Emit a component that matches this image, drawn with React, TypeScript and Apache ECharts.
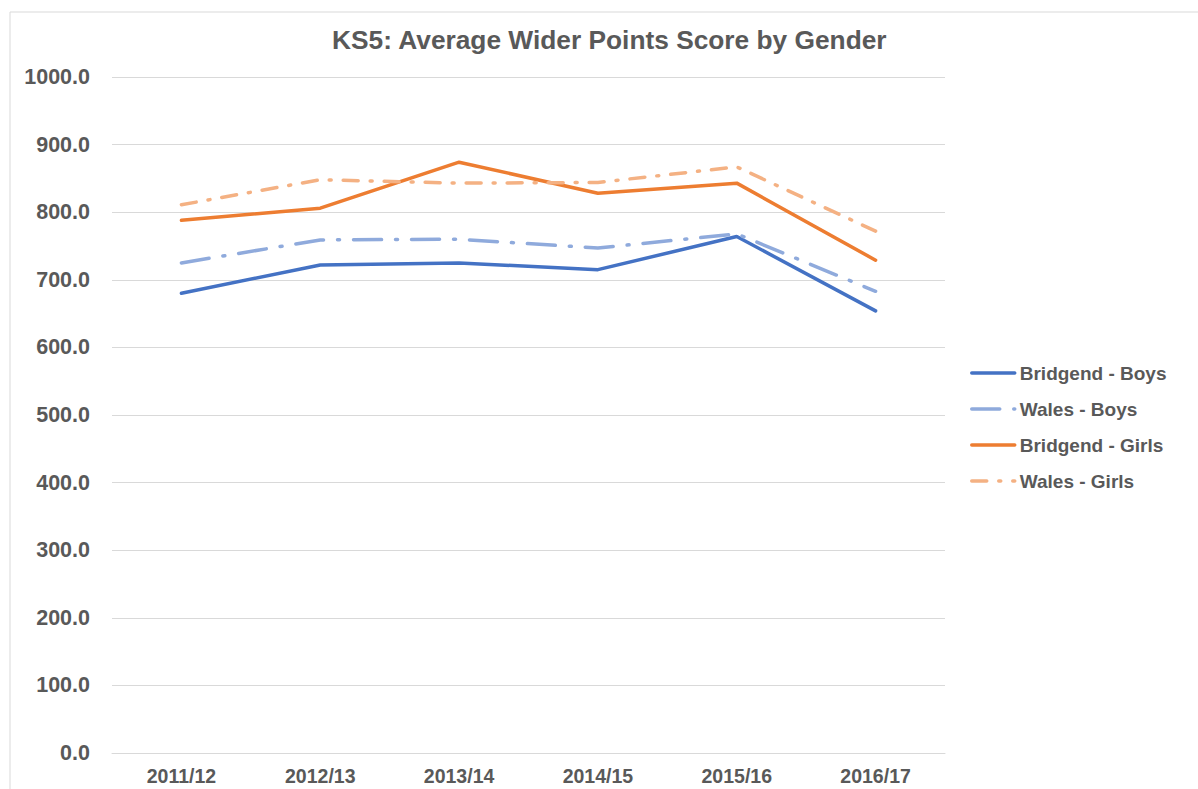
import React, { useEffect, useRef } from "react";
import * as echarts from "echarts";

const categories = ["2011/12", "2012/13", "2013/14", "2014/15", "2015/16", "2016/17"];
const bridgendBoys = [680, 722, 725, 715, 764, 654];
const walesBoys = [725, 759, 760, 747, 768, 683];
const bridgendGirls = [788, 806, 874, 828, 843, 729];
const walesGirls = [811, 848, 843, 844, 867, 772];

const FONT = "'Liberation Sans', Arial, sans-serif";
const GREY = "#595959";

export default function App() {
  const ref = useRef<HTMLDivElement>(null);
  useEffect(() => {
    if (!ref.current) return;
    const chart = echarts.init(ref.current, null, { renderer: "svg" });
    const mk = (name: string, data: number[], color: string, type: any) => ({
      name,
      type: "line",
      data,
      symbol: "none",
      lineStyle: { color, width: 3.5, type, cap: "round" },
      itemStyle: { color },
    });
    chart.setOption({
      animation: false,
      backgroundColor: "#ffffff",
      textStyle: { fontFamily: FONT },
      title: {
        text: "KS5: Average Wider Points Score by Gender",
        left: 332,
        top: 27,
        padding: 0,
        textStyle: { fontFamily: FONT, fontSize: 26.3, fontWeight: "bold", color: GREY },
      },
      graphic: [
        {
          type: "rect",
          shape: { x: 10, y: 12, width: 1400, height: 1000 },
          style: { fill: "none", stroke: "#d9d9d9", lineWidth: 1 },
          silent: true,
          z: -1,
        },
      ],
      legend: {
        orient: "vertical",
        left: 970,
        top: 363,
        itemWidth: 43,
        itemHeight: 14,
        itemGap: 16,
        padding: 0,
        itemStyle: { opacity: 0 },
        lineStyle: { width: 3.5 },
        textStyle: { fontFamily: FONT, fontSize: 19, fontWeight: "bold", color: GREY, lineHeight: 20 },
        data: ["Bridgend - Boys", "Wales - Boys", "Bridgend - Girls", "Wales - Girls"],
      },
      grid: { left: 112, right: 253, top: 77, bottom: 36, containLabel: false },
      xAxis: {
        type: "category",
        data: categories,
        boundaryGap: true,
        axisLine: { show: true, lineStyle: { color: "#d9d9d9", width: 1 } },
        axisTick: { show: false },
        axisLabel: { fontFamily: FONT, fontSize: 19.5, fontWeight: "bold", color: GREY, margin: 13 },
      },
      yAxis: {
        type: "value",
        min: 0,
        max: 1000,
        interval: 100,
        axisLine: { show: false },
        axisTick: { show: false },
        splitLine: { lineStyle: { color: "#d9d9d9", width: 1 } },
        axisLabel: {
          fontFamily: FONT,
          fontSize: 21.5,
          fontWeight: "bold",
          color: GREY,
          margin: 22,
          formatter: (v: number) => v.toFixed(1),
        },
      },
      series: [
        mk("Bridgend - Boys", bridgendBoys, "#4472C4", "solid"),
        mk("Wales - Boys", walesBoys, "#8FAADC", [28, 14, 2, 14]),
        mk("Bridgend - Girls", bridgendGirls, "#ED7D31", "solid"),
        mk("Wales - Girls", walesGirls, "#F4B183", [15, 12, 2, 12]),
      ],
    });
    return () => chart.dispose();
  }, []);
  return (
    <div
      ref={ref}
      style={{ position: "fixed", left: 0, top: 0, width: 1198, height: 789, background: "#fff" }}
    />
  );
}
